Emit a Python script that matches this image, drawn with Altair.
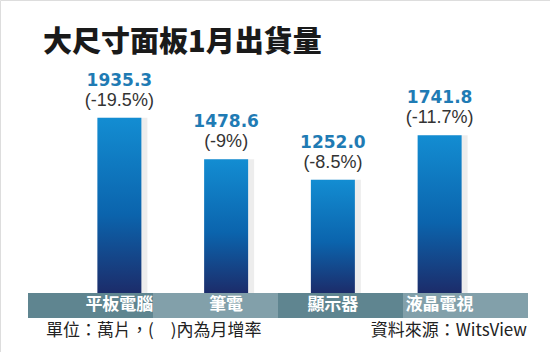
import altair as alt
import pandas as pd

# ---- data ----
categories = ["平板電腦", "筆電", "顯示器", "液晶電視"]
shipments = [1935.3, 1478.6, 1252.0, 1741.8]
value_labels = ["1935.3", "1478.6", "1252.0", "1741.8"]
mom_labels = ["(-19.5%)", "(-9%)", "(-8.5%)", "(-11.7%)"]
stripe_tone = ["dark", "light", "dark", "light"]

title_text = "大尺寸面板1月出貨量"
unit_note = "單位：萬片，(\u3000)內為月增率"
source_note = "資料來源：WitsView"

df = pd.DataFrame({
    "cat": categories,
    "value": shipments,
    "vlabel": value_labels,
    "plabel": mom_labels,
    "tone": stripe_tone,
})

bar_x = alt.X("cat:N", sort=categories,
              scale=alt.Scale(domain=categories, range=[66, 493], paddingInner=0, paddingOuter=0),
              axis=None)
stripe_x = alt.X("cat:N", sort=categories,
                 scale=alt.Scale(domain=categories, range=[28, 528], paddingInner=0, paddingOuter=0),
                 axis=None)
yenc = alt.Y("value:Q", scale=alt.Scale(domain=[0, 2000], range=[293, 112], nice=False, zero=True), axis=None)

base = alt.Chart(df)

shadow = base.mark_bar(width=48, xOffset=4, color="#9a9a9a", opacity=0.18).encode(x=bar_x, y=yenc)

bars = base.mark_bar(
    width=44,
    color=alt.Gradient(
        gradient="linear", x1=0, x2=0, y1=0, y2=1,
        stops=[
            alt.GradientStop(color="#138dd2", offset=0),
            alt.GradientStop(color="#0b64ad", offset=0.55),
            alt.GradientStop(color="#1c2c6a", offset=1),
        ],
    ),
).encode(x=bar_x, y=yenc)

vtext = base.mark_text(dy=-37, baseline="middle", align="center", font="DejaVu Sans",
                       fontWeight="bold", fontSize=17, color="#1f7bb4").encode(
    x=bar_x, y=yenc, text="vlabel:N")

ptext = base.mark_text(dy=-17, baseline="middle", align="center", font="Liberation Sans",
                       fontSize=18, color="#333333").encode(
    x=bar_x, y=yenc, text="plabel:N")

stripe = base.mark_rect().encode(
    x=stripe_x,
    y=alt.value(293), y2=alt.value(318),
    color=alt.Color("tone:N", scale=alt.Scale(domain=["dark", "light"], range=["#5f8590", "#82a0aa"]),
                    legend=None),
)

stripe_text = base.mark_text(baseline="middle", align="center", font="Noto Sans CJK TC",
                             fontWeight="bold", fontSize=17, color="#ffffff").encode(
    x=bar_x, y=alt.value(305), text="cat:N")

title = alt.Chart(pd.DataFrame({"t": [title_text]})).mark_text(
    align="left", baseline="middle", font="Noto Sans CJK TC", fontWeight=900,
    fontSize=29, color="#1a1a1a").encode(x=alt.value(43), y=alt.value(43), text="t:N")

note_l = alt.Chart(pd.DataFrame({"t": [unit_note]})).mark_text(
    align="left", baseline="middle", font="Noto Sans CJK TC", fontSize=17,
    color="#222222").encode(x=alt.value(46), y=alt.value(331), text="t:N")

note_r = alt.Chart(pd.DataFrame({"t": [source_note]})).mark_text(
    align="right", baseline="middle", font="Noto Sans CJK TC", fontSize=17,
    color="#222222").encode(x=alt.value(527), y=alt.value(331), text="t:N")

chart = alt.layer(
    stripe, shadow, bars, vtext, ptext, stripe_text, title, note_l, note_r
).resolve_scale(x="independent").properties(
    width=550, height=352,
    autosize=alt.AutoSizeParams(type="none"),
    padding=0,
).configure_view(stroke=None).configure(background="#ffffff")

chart.save("out.html", embed_options={"renderer": "svg", "actions": False})
